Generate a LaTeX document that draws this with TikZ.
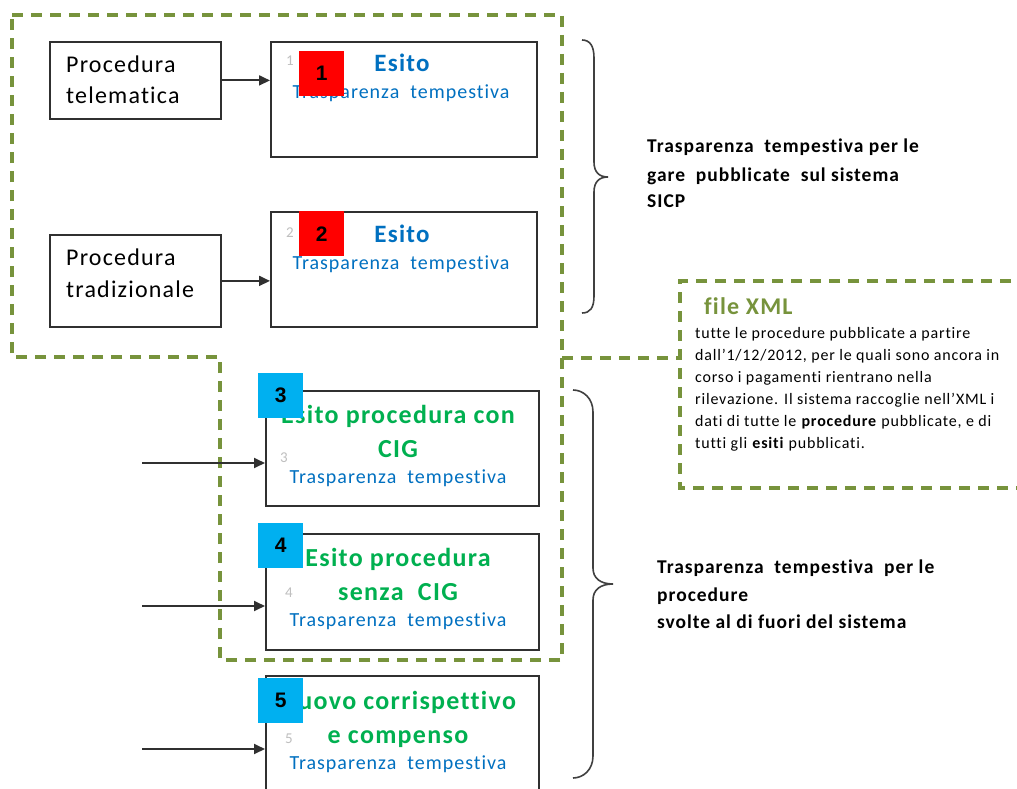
\documentclass[tikz,border=0pt]{standalone}
\usepackage{fontspec}
\setmainfont{Carlito}[LetterSpace=5,Ligatures=NoCommon]
\newfontfamily\numfont{Liberation Sans}
\usetikzlibrary{arrows.meta}
\definecolor{xmlgreen}{HTML}{77933C}
\definecolor{txtgreen}{HTML}{00B050}
\definecolor{txtblue}{HTML}{0070C0}
\definecolor{sqred}{HTML}{FF0000}
\definecolor{sqblue}{HTML}{00B0F0}
\definecolor{boxline}{HTML}{303030}
\definecolor{digitgray}{HTML}{BFBFBF}
\begin{document}
\begin{tikzpicture}[x=1pt,y=-1pt,
  box/.style={draw=boxline,line width=1.8pt,anchor=north west,inner sep=0pt},
  sq/.style={anchor=north west,minimum width=45pt,minimum height=45pt,inner sep=0pt,font=\numfont\bfseries\fontsize{21}{21}\selectfont},
  t/.style={anchor=base,inner sep=0pt},
  tl/.style={anchor=base west,inner sep=0pt},
  proc/.style={tl,font=\fontsize{24}{24}\selectfont},
  esito/.style={t,text=txtblue,font=\bfseries\fontsize{25}{25}\selectfont},
  trasp/.style={t,text=txtblue,font=\fontsize{20}{20}\selectfont},
  gtitle/.style={t,text=txtgreen,font=\bfseries\fontsize{26}{26}\selectfont},
  dig/.style={tl,text=digitgray,font=\fontsize{15}{15}\selectfont},
  note/.style={tl,font=\bfseries\fontsize{19.5}{19.5}\selectfont},
  body/.style={tl,font=\fontsize{16}{16}\selectfont},
  grp/.style={draw=xmlgreen,line width=3.2pt,dash pattern=on 11pt off 8pt},
  arr/.style={draw=boxline,line width=1.8pt,-{Triangle[length=11pt,width=10pt]}},
  brace/.style={draw=black!75,line width=1.6pt}
]
\useasboundingbox (0,0) rectangle (1017,789);
\fill[white] (0,0) rectangle (1017,789);

% dashed groups
\draw[grp] (12,15) -- (562,15) -- (562,660) -- (220,660) -- (220,357) -- (12,357) -- cycle;
\draw[grp] (1030,281) -- (680,281) -- (680,488) -- (1030,488);
\coordinate (grpR) at (562,358);
\coordinate (xmlL) at (680,358);
\draw[grp] (grpR) -- (xmlL);

% boxes
\node[box,minimum width=171pt,minimum height=77pt] (pt) at (49,41) {};
\node[box,minimum width=171pt,minimum height=92pt] (pd) at (49,234) {};
\node[box,minimum width=266pt,minimum height=115pt] (b1) at (270,41) {};
\node[box,minimum width=266pt,minimum height=115pt] (b2) at (270,211) {};
\node[box,minimum width=273pt,minimum height=115pt] (b3) at (265,390) {};
\node[box,minimum width=273pt,minimum height=116pt] (b4) at (265,533) {};
\node[box,minimum width=273pt,minimum height=130pt] (b5) at (265,675) {};

% texts in boxes
\node[proc] (pt1) at (66,73) {Procedura};
\node[proc] (pt2) at (66,104) {telematica};
\node[proc] (pd1) at (66,265) {Procedura};
\node[proc] (pd2) at (66,297) {tradizionale};

\node[esito] (e1) at (402,72) {Esito};
\node[trasp] (t1) at (401,99) {Trasparenza\ \ tempestiva};
\node[esito] (e2) at (402,242) {Esito};
\node[trasp] (t2) at (401,269) {Trasparenza\ \ tempestiva};

\node[gtitle] (g3a) at (398,423) {Esito procedura con};
\node[gtitle] (g3b) at (398,457) {CIG};
\node[trasp] (t3) at (398,483) {Trasparenza\ \ tempestiva};
\node[gtitle] (g4a) at (398,566) {Esito procedura};
\node[gtitle] (g4b) at (398,600) {senza\ \ CIG};
\node[trasp] (t4) at (398,626) {Trasparenza\ \ tempestiva};
\node[gtitle] (g5a) at (398,709) {Nuovo corrispettivo};
\node[gtitle] (g5b) at (398,743) {e compenso};
\node[trasp] (t5) at (398,769) {Trasparenza\ \ tempestiva};

% faint digits
\node[dig] (d1) at (286,66) {1};
\node[dig] (d2) at (286,237) {2};
\node[dig] (d3) at (280,462) {3};
\node[dig] (d4) at (285,597) {4};
\node[dig] (d5) at (285,743) {5};

% numbered squares
\node[sq,fill=sqred] (s1) at (299,51) {1};
\node[sq,fill=sqred] (s2) at (299,211) {2};
\node[sq,fill=sqblue] (s3) at (258,373) {3};
\node[sq,fill=sqblue] (s4) at (258,523) {4};
\node[sq,fill=sqblue] (s5) at (258,678) {5};

% arrows
\draw[arr] (pt.east) -- (pt.east -| b1.west);
\draw[arr] (pd.east) -- (pd.east -| b2.west);
\coordinate (a3) at (142,463);
\coordinate (a4) at (142,606);
\coordinate (a5) at (142,749);
\draw[arr] (a3) -- (a3 -| b3.west);
\draw[arr] (a4) -- (a4 -| b4.west);
\draw[arr] (a5) -- (a5 -| b5.west);

% braces
\draw[brace] (582,40) .. controls (590,40) and (594,46) .. (594,58) -- (594,162)
  .. controls (594,172) and (599,177) .. (608,177)
  .. controls (599,177) and (594,182) .. (594,192) -- (594,296)
  .. controls (594,308) and (590,313) .. (582,313);
\draw[brace] (573,390) .. controls (583,390) and (593,398) .. (593,412) -- (593,568)
  .. controls (593,578) and (600,584) .. (613,584)
  .. controls (600,584) and (593,590) .. (593,600) -- (593,756)
  .. controls (593,770) and (583,778) .. (573,778);

% side notes
\node[note] (n1a) at (647,153) {Trasparenza\ \ tempestiva per le};
\node[note] (n1b) at (647,181) {gare\ \ pubblicate\ \ sul sistema};
\node[note] (n1c) at (647,207) {SICP};
\node[note] (n2a) at (657,573) {Trasparenza\ \ tempestiva\ \ per le};
\node[note] (n2b) at (657,601) {procedure};
\node[note] (n2c) at (657,628) {svolte al di fuori del sistema};

% XML note
\node[tl,text=xmlgreen,font=\bfseries\fontsize{24}{24}\selectfont] (xt) at (704,314) {file XML};
\node[body] (x1) at (695,338) {tutte le procedure pubblicate a partire};
\node[body] (x2) at (695,360) {dall’1/12/2012, per le quali sono ancora in};
\node[body] (x3) at (695,382) {corso i pagamenti rientrano nella};
\node[body] (x4) at (695,404) {rilevazione. Il sistema raccoglie nell’XML i};
\node[body] (x5) at (695,426) {dati di tutte le \textbf{procedure} pubblicate, e di};
\node[body] (x6) at (695,448) {tutti gli \textbf{esiti} pubblicati.};
\end{tikzpicture}
\end{document}
